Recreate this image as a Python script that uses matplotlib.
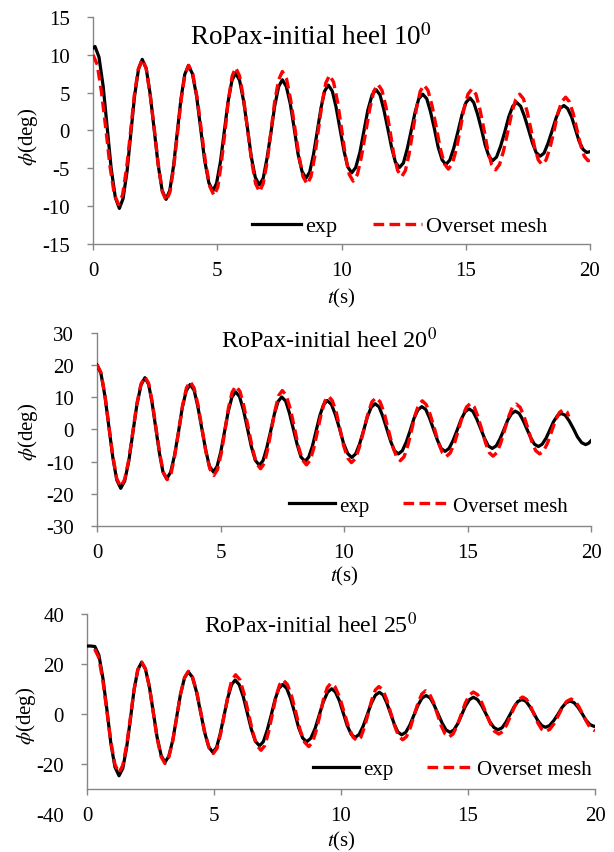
import matplotlib.pyplot as plt

# roll decay, RoPax, three initial heel angles: exp vs overset mesh
# values (peaks, troughs and points in between)

t1_exp = [0.00, 0.08,
          0.24, 0.41, 0.57, 0.73, 0.90, 1.06,
          1.21, 1.37, 1.52, 1.67, 1.83, 1.98,
          2.14, 2.30, 2.46, 2.62, 2.78, 2.94,
          3.09, 3.24, 3.39, 3.54, 3.69, 3.84,
          4.00, 4.17, 4.33, 4.49, 4.66, 4.82,
          4.97, 5.13, 5.28, 5.43, 5.59, 5.74,
          5.90, 6.06, 6.22, 6.37, 6.53, 6.69,
          6.85, 7.00, 7.16, 7.31, 7.47, 7.62,
          7.78, 7.94, 8.10, 8.25, 8.41, 8.57,
          8.72, 8.87, 9.02, 9.17, 9.32, 9.47,
          9.63, 9.78, 9.94, 10.10, 10.25, 10.41,
          10.57, 10.74, 10.90, 11.06, 11.23, 11.39,
          11.55, 11.70, 11.86, 12.02, 12.17, 12.33,
          12.49, 12.64, 12.80, 12.96, 13.11, 13.27,
          13.43, 13.58, 13.74, 13.89, 14.05, 14.20,
          14.36, 14.52, 14.69, 14.85, 15.01, 15.17,
          15.32, 15.47, 15.63, 15.78, 15.93, 16.08,
          16.24, 16.40, 16.57, 16.73, 16.89, 17.05,
          17.21, 17.36, 17.52, 17.68, 17.83, 17.99,
          18.15, 18.31, 18.47, 18.63, 18.79, 18.95,
          19.10, 19.26, 19.41, 19.56, 19.72, 19.87,
          20.00]
phi1_exp = [10.9, 11.1,
            9.7, 5.8, 0.4, -5.0, -8.9, -10.3,
            -9.0, -5.4, -0.5, 4.5, 8.1, 9.4,
            8.2, 4.8, 0.2, -4.5, -7.9, -9.1,
            -7.9, -4.7, -0.3, 4.2, 7.4, 8.6,
            7.5, 4.5, 0.3, -3.9, -6.9, -8.0,
            -7.0, -4.1, -0.2, 3.7, 6.6, 7.6,
            6.6, 3.9, 0.2, -3.5, -6.2, -7.2,
            -6.3, -3.7, -0.3, 3.2, 5.8, 6.7,
            5.8, 3.5, 0.2, -3.1, -5.4, -6.3,
            -5.5, -3.2, -0.2, 2.9, 5.2, 6.0,
            5.2, 3.1, 0.2, -2.7, -4.8, -5.6,
            -4.9, -2.9, -0.1, 2.7, 4.7, 5.4,
            4.7, 2.8, 0.3, -2.3, -4.2, -4.9,
            -4.3, -2.5, -0.1, 2.4, 4.2, 4.8,
            4.2, 2.5, 0.2, -2.2, -3.9, -4.5,
            -3.9, -2.3, -0.1, 2.1, 3.7, 4.3,
            3.7, 2.2, 0.2, -1.9, -3.4, -4.0,
            -3.5, -2.1, -0.2, 1.8, 3.2, 3.7,
            3.2, 1.9, 0.2, -1.6, -2.9, -3.4,
            -3.0, -1.7, -0.1, 1.6, 2.9, 3.3,
            2.9, 1.8, 0.2, -1.4, -2.5, -2.9,
            -2.8]

t1_cfd = [0.00,
          0.17, 0.34, 0.52, 0.69, 0.86, 1.03,
          1.19, 1.35, 1.51, 1.66, 1.82, 1.98,
          2.14, 2.30, 2.47, 2.63, 2.79, 2.95,
          3.10, 3.25, 3.40, 3.55, 3.70, 3.85,
          4.02, 4.19, 4.36, 4.53, 4.70, 4.87,
          5.02, 5.16, 5.31, 5.45, 5.60, 5.74,
          5.90, 6.06, 6.22, 6.38, 6.54, 6.70,
          6.85, 7.01, 7.16, 7.31, 7.47, 7.62,
          7.79, 7.95, 8.12, 8.29, 8.45, 8.62,
          8.77, 8.92, 9.07, 9.22, 9.37, 9.52,
          9.68, 9.84, 10.00, 10.15, 10.31, 10.47,
          10.64, 10.80, 10.97, 11.14, 11.30, 11.47,
          11.63, 11.79, 11.95, 12.10, 12.26, 12.42,
          12.57, 12.72, 12.87, 13.02, 13.17, 13.32,
          13.48, 13.65, 13.81, 13.97, 14.14, 14.30,
          14.46, 14.62, 14.78, 14.93, 15.09, 15.25,
          15.41, 15.57, 15.73, 15.88, 16.04, 16.20,
          16.36, 16.52, 16.69, 16.85, 17.01, 17.17,
          17.32, 17.47, 17.62, 17.77, 17.92, 18.07,
          18.23, 18.39, 18.55, 18.70, 18.86, 19.02,
          19.17, 19.32, 19.47, 19.62, 19.77, 19.92,
          20.00]
phi1_cfd = [10.0,
            8.7, 5.1, 0.1, -4.9, -8.5, -9.8,
            -8.5, -5.0, -0.2, 4.6, 8.1, 9.4,
            8.2, 4.7, 0.1, -4.6, -8.1, -9.3,
            -8.1, -4.8, -0.4, 4.1, 7.4, 8.6,
            7.4, 4.3, 0.0, -4.3, -7.4, -8.6,
            -7.5, -4.4, -0.2, 4.1, 7.2, 8.3,
            7.2, 4.2, 0.1, -4.0, -7.0, -8.1,
            -7.0, -4.1, -0.2, 3.8, 6.7, 7.8,
            6.8, 4.1, 0.4, -3.4, -6.1, -7.1,
            -6.1, -3.5, 0.1, 3.7, 6.3, 7.3,
            6.4, 3.8, 0.3, -3.2, -5.8, -6.7,
            -5.8, -3.5, -0.3, 2.9, 5.2, 6.1,
            5.3, 3.1, 0.0, -3.1, -5.3, -6.1,
            -5.3, -3.1, -0.1, 3.0, 5.2, 6.0,
            5.3, 3.2, 0.5, -2.3, -4.4, -5.1,
            -4.4, -2.5, 0.2, 2.9, 4.8, 5.5,
            4.8, 2.8, 0.2, -2.5, -4.5, -5.2,
            -4.5, -2.7, -0.2, 2.3, 4.1, 4.8,
            4.2, 2.5, 0.2, -2.2, -3.9, -4.5,
            -3.9, -2.3, -0.1, 2.2, 3.8, 4.4,
            3.8, 2.3, 0.2, -1.9, -3.4, -4.0,
            -3.9]

t2_exp = [0.00,
          0.16, 0.32, 0.48, 0.64, 0.80, 0.96,
          1.12, 1.29, 1.45, 1.61, 1.78, 1.94,
          2.09, 2.23, 2.38, 2.53, 2.67, 2.82,
          2.98, 3.14, 3.30, 3.45, 3.61, 3.77,
          3.93, 4.08, 4.24, 4.40, 4.55, 4.71,
          4.86, 5.01, 5.16, 5.31, 5.46, 5.61,
          5.77, 5.93, 6.09, 6.25, 6.41, 6.57,
          6.72, 6.87, 7.03, 7.18, 7.33, 7.48,
          7.64, 7.79, 7.95, 8.11, 8.26, 8.42,
          8.57, 8.72, 8.87, 9.02, 9.17, 9.32,
          9.49, 9.65, 9.82, 9.98, 10.15, 10.31,
          10.47, 10.63, 10.79, 10.94, 11.10, 11.26,
          11.42, 11.57, 11.73, 11.89, 12.04, 12.20,
          12.36, 12.52, 12.68, 12.83, 12.99, 13.15,
          13.31, 13.46, 13.62, 13.78, 13.93, 14.09,
          14.25, 14.41, 14.58, 14.74, 14.90, 15.06,
          15.22, 15.37, 15.53, 15.69, 15.84, 16.00,
          16.16, 16.31, 16.47, 16.62, 16.78, 16.93,
          17.09, 17.24, 17.40, 17.56, 17.71, 17.87,
          18.02, 18.18, 18.33, 18.48, 18.64, 18.79,
          18.96, 19.12, 19.29, 19.45, 19.62, 19.78,
          19.90, 20.00]
phi2_exp = [20.0,
            17.4, 10.4, 0.9, -8.7, -15.7, -18.3,
            -16.0, -9.7, -1.1, 7.5, 13.8, 16.1,
            14.0, 8.3, 0.4, -7.5, -13.2, -15.3,
            -13.3, -8.0, -0.7, 6.7, 12.0, 14.0,
            12.2, 7.2, 0.4, -6.4, -11.4, -13.2,
            -11.5, -7.0, -0.8, 5.5, 10.0, 11.7,
            10.2, 6.0, 0.3, -5.4, -9.6, -11.1,
            -9.7, -5.8, -0.5, 4.8, 8.7, 10.1,
            8.8, 5.1, 0.1, -4.9, -8.6, -9.9,
            -8.6, -5.2, -0.5, 4.3, 7.7, 9.0,
            7.8, 4.6, 0.2, -4.3, -7.5, -8.7,
            -7.6, -4.5, -0.4, 3.8, 6.9, 8.0,
            7.0, 4.1, 0.2, -3.7, -6.6, -7.6,
            -6.6, -3.9, -0.3, 3.4, 6.1, 7.1,
            6.2, 3.6, 0.2, -3.3, -5.9, -6.8,
            -5.9, -3.5, -0.2, 3.1, 5.5, 6.4,
            5.6, 3.3, 0.3, -2.8, -5.1, -5.9,
            -5.1, -3.0, -0.1, 2.8, 4.9, 5.7,
            5.0, 3.0, 0.2, -2.6, -4.6, -5.3,
            -4.6, -2.7, -0.2, 2.4, 4.3, 5.0,
            4.4, 2.6, 0.2, -2.3, -4.1, -4.7,
            -4.3, -3.5]

t2_cfd = [0.00,
          0.16, 0.32, 0.48, 0.64, 0.80, 0.96,
          1.12, 1.29, 1.45, 1.61, 1.78, 1.94,
          2.09, 2.24, 2.39, 2.54, 2.69, 2.84,
          3.00, 3.15, 3.31, 3.46, 3.62, 3.77,
          3.93, 4.09, 4.25, 4.41, 4.57, 4.73,
          4.88, 5.03, 5.18, 5.32, 5.47, 5.62,
          5.79, 5.95, 6.12, 6.29, 6.45, 6.62,
          6.77, 6.91, 7.06, 7.21, 7.35, 7.50,
          7.66, 7.83, 7.99, 8.15, 8.32, 8.48,
          8.63, 8.78, 8.93, 9.08, 9.23, 9.38,
          9.53, 9.69, 9.84, 9.99, 10.15, 10.30,
          10.47, 10.63, 10.80, 10.97, 11.13, 11.30,
          11.46, 11.63, 11.79, 11.95, 12.12, 12.28,
          12.43, 12.58, 12.73, 12.87, 13.02, 13.17,
          13.33, 13.49, 13.66, 13.82, 13.98, 14.14,
          14.30, 14.47, 14.63, 14.79, 14.96, 15.12,
          15.27, 15.42, 15.58, 15.73, 15.88, 16.03,
          16.19, 16.34, 16.50, 16.66, 16.81, 16.97,
          17.13, 17.29, 17.45, 17.60, 17.76, 17.92,
          18.08, 18.24, 18.40, 18.56, 18.72, 18.88,
          19.03, 19.10]
phi2_cfd = [20.2,
            17.7, 10.7, 1.2, -8.3, -15.3, -17.8,
            -15.5, -9.3, -0.7, 7.9, 14.1, 16.4,
            14.3, 8.4, 0.4, -7.6, -13.5, -15.6,
            -13.6, -8.0, -0.4, 7.3, 12.9, 14.9,
            12.9, 7.6, 0.3, -7.0, -12.3, -14.3,
            -12.4, -7.4, -0.4, 6.6, 11.6, 13.5,
            11.8, 7.1, 0.7, -5.8, -10.5, -12.2,
            -10.6, -6.1, -0.1, 6.0, 10.5, 12.1,
            10.6, 6.3, 0.6, -5.2, -9.5, -11.0,
            -9.6, -5.7, -0.4, 5.0, 8.9, 10.3,
            8.9, 5.2, 0.0, -5.2, -8.9, -10.3,
            -9.0, -5.3, -0.2, 4.9, 8.6, 9.9,
            8.6, 5.0, 0.1, -4.8, -8.4, -9.7,
            -8.5, -5.1, -0.4, 4.3, 7.7, 8.9,
            7.7, 4.6, 0.3, -4.1, -7.2, -8.4,
            -7.3, -4.3, -0.2, 4.0, 7.0, 8.1,
            7.0, 4.0, -0.1, -4.2, -7.2, -8.3,
            -7.2, -4.3, -0.2, 3.9, 6.8, 7.9,
            6.9, 4.0, 0.2, -3.7, -6.6, -7.6,
            -6.7, -4.2, -0.7, 2.8, 5.3, 6.2,
            5.4, 4.0]

t3_exp = [0.00, 0.15, 0.31,
          0.47, 0.63, 0.79, 0.94, 1.10, 1.26,
          1.41, 1.56, 1.71, 1.85, 2.00, 2.15,
          2.30, 2.46, 2.61, 2.76, 2.92, 3.07,
          3.22, 3.38, 3.53, 3.68, 3.84, 3.99,
          4.15, 4.31, 4.47, 4.63, 4.79, 4.95,
          5.10, 5.24, 5.39, 5.54, 5.69, 5.83,
          5.99, 6.15, 6.31, 6.47, 6.63, 6.79,
          6.94, 7.09, 7.25, 7.40, 7.55, 7.70,
          7.86, 8.02, 8.18, 8.33, 8.49, 8.65,
          8.81, 8.98, 9.14, 9.30, 9.47, 9.63,
          9.78, 9.94, 10.09, 10.24, 10.40, 10.55,
          10.71, 10.87, 11.03, 11.19, 11.35, 11.51,
          11.66, 11.80, 11.95, 12.10, 12.24, 12.39,
          12.55, 12.71, 12.87, 13.03, 13.19, 13.35,
          13.51, 13.66, 13.82, 13.98, 14.13, 14.29,
          14.44, 14.60, 14.75, 14.90, 15.06, 15.21,
          15.37, 15.53, 15.70, 15.86, 16.02, 16.18,
          16.34, 16.49, 16.65, 16.81, 16.96, 17.12,
          17.28, 17.43, 17.59, 17.74, 17.90, 18.05,
          18.21, 18.37, 18.54, 18.70, 18.86, 19.02,
          19.18, 19.33, 19.49, 19.64, 19.80, 19.95,
          20.00]
phi3_exp = [27.2, 27.2, 27.0,
            23.5, 14.1, 1.2, -11.8, -21.2, -24.7,
            -21.7, -13.4, -2.0, 9.4, 17.7, 20.7,
            18.0, 10.7, 0.7, -9.3, -16.6, -19.3,
            -16.9, -10.3, -1.2, 7.9, 14.5, 16.9,
            14.7, 8.9, 0.8, -7.3, -13.1, -15.3,
            -13.4, -8.1, -0.9, 6.4, 11.7, 13.6,
            11.8, 7.0, 0.5, -6.1, -10.9, -12.7,
            -11.1, -6.6, -0.5, 5.7, 10.2, 11.8,
            10.3, 6.1, 0.4, -5.4, -9.6, -11.1,
            -9.7, -5.8, -0.5, 4.8, 8.7, 10.1,
            8.8, 5.2, 0.4, -4.5, -8.1, -9.4,
            -8.2, -4.9, -0.4, 4.2, 7.5, 8.7,
            7.6, 4.5, 0.2, -4.1, -7.2, -8.3,
            -7.3, -4.4, -0.5, 3.5, 6.4, 7.4,
            6.4, 3.7, 0.1, -3.6, -6.3, -7.3,
            -6.4, -3.8, -0.3, 3.2, 5.8, 6.7,
            5.8, 3.5, 0.2, -3.1, -5.4, -6.3,
            -5.5, -3.3, -0.3, 2.8, 5.0, 5.8,
            5.1, 3.0, 0.3, -2.5, -4.6, -5.3,
            -4.6, -2.7, -0.1, 2.6, 4.5, 5.2,
            4.5, 2.7, 0.2, -2.4, -4.2, -4.9,
            -4.9]

t3_cfd = [0.30,
          0.46, 0.62, 0.78, 0.94, 1.10, 1.26,
          1.41, 1.56, 1.71, 1.85, 2.00, 2.15,
          2.30, 2.46, 2.61, 2.76, 2.92, 3.07,
          3.22, 3.38, 3.53, 3.68, 3.84, 3.99,
          4.15, 4.32, 4.48, 4.64, 4.81, 4.97,
          5.12, 5.26, 5.41, 5.56, 5.70, 5.85,
          6.02, 6.18, 6.35, 6.52, 6.68, 6.85,
          7.00, 7.14, 7.29, 7.43, 7.58, 7.72,
          7.89, 8.06, 8.23, 8.39, 8.56, 8.73,
          8.88, 9.02, 9.17, 9.31, 9.46, 9.60,
          9.77, 9.95, 10.12, 10.29, 10.47, 10.64,
          10.78, 10.92, 11.07, 11.21, 11.35, 11.49,
          11.65, 11.80, 11.96, 12.12, 12.27, 12.43,
          12.58, 12.73, 12.88, 13.03, 13.18, 13.33,
          13.48, 13.64, 13.79, 13.94, 14.10, 14.25,
          14.41, 14.57, 14.73, 14.89, 15.05, 15.21,
          15.38, 15.54, 15.71, 15.88, 16.04, 16.21,
          16.37, 16.52, 16.68, 16.84, 16.99, 17.15,
          17.30, 17.45, 17.60, 17.75, 17.90, 18.05,
          18.22, 18.39, 18.56, 18.72, 18.89, 19.06,
          19.22, 19.37, 19.53, 19.69, 19.84, 20.00]
phi3_cfd = [26.0,
            22.7, 13.6, 1.3, -11.1, -20.2, -23.5,
            -20.5, -12.4, -1.4, 9.7, 17.8, 20.8,
            18.1, 10.7, 0.5, -9.7, -17.1, -19.8,
            -17.3, -10.6, -1.4, 7.9, 14.6, 17.1,
            14.9, 8.9, 0.7, -7.6, -13.6, -15.8,
            -13.7, -7.9, -0.1, 7.8, 13.6, 15.7,
            13.7, 8.2, 0.6, -7.0, -12.5, -14.5,
            -12.6, -7.5, -0.5, 6.6, 11.7, 13.6,
            11.8, 7.0, 0.3, -6.4, -11.2, -13.0,
            -11.3, -6.7, -0.4, 6.0, 10.6, 12.3,
            10.8, 6.6, 0.8, -5.0, -9.2, -10.7,
            -9.3, -5.3, 0.2, 5.6, 9.6, 11.0,
            9.6, 5.7, 0.4, -5.0, -8.9, -10.3,
            -9.0, -5.4, -0.5, 4.4, 8.0, 9.3,
            8.1, 4.7, 0.1, -4.6, -8.0, -9.2,
            -8.0, -4.7, -0.2, 4.3, 7.6, 8.8,
            7.7, 4.6, 0.4, -3.8, -6.9, -8.0,
            -7.0, -4.3, -0.6, 3.1, 5.8, 6.8,
            5.9, 3.4, -0.1, -3.6, -6.1, -7.0,
            -6.1, -3.8, -0.5, 2.8, 5.1, 6.0,
            5.2, 2.8, -0.4, -3.5, -5.9, -6.7]

heel = ['10', '20', '25']
yticks = [[-15, -10, -5, 0, 5, 10, 15],
          [-30, -20, -10, 0, 10, 20, 30],
          [-40, -20, 0, 20, 40]]
xticks = [0, 5, 10, 15, 20]

plt.rcParams['font.family'] = 'Liberation Serif'
plt.rcParams['mathtext.fontset'] = 'stix'
plt.rcParams['axes.unicode_minus'] = False

axcol = '#868686'

fig = plt.figure(figsize=(6.14, 8.53), dpi=100)

# [left, bottom, width, height] in figure fraction
rects = [[0.1515, 0.7128, 0.8094, 0.2661],
         [0.1580, 0.3822, 0.8046, 0.2263],
         [0.1417, 0.0445, 0.8274, 0.2345]]
title_pos = [(0.195, 0.881, 19.5), (0.251, 0.927, 17.5), (0.230, 0.910, 17.2)]
leg_pos = [(0.320, 0.079, 16), (0.389, 0.104, 15), (0.445, 0.225, 15)]
ylab_pos = [(-0.107, 0.476), (-0.115, 0.49), (-0.096, 0.495)]
xlab_y = [-0.185, -0.197, -0.075]

data = [(t1_exp, phi1_exp, t1_cfd, phi1_cfd),
        (t2_exp, phi2_exp, t2_cfd, phi2_cfd),
        (t3_exp, phi3_exp, t3_cfd, phi3_cfd)]

for i in range(3):
    ax = fig.add_axes(rects[i])
    te, pe, tc, pc = data[i]
    ax.plot(te, pe, color='black', lw=2.3, label='exp', zorder=3)
    ax.plot(tc, pc, color='red', lw=2.4, ls=(0, (3.2, 1.6)),
            label='Overset mesh', zorder=4)

    ax.set_xlim(0, 20)
    ax.set_ylim(yticks[i][0], yticks[i][-1])
    ax.set_xticks(xticks)
    ax.set_yticks(yticks[i])

    for s in ['top', 'right']:
        ax.spines[s].set_visible(False)
    for s in ['left', 'bottom']:
        ax.spines[s].set_color(axcol)
        ax.spines[s].set_linewidth(1.0)
    ax.tick_params(direction='out', length=4.5, width=1.0, color=axcol,
                   labelsize=15, labelcolor='black')
    ax.tick_params(axis='x', pad=8)
    ax.tick_params(axis='y', pad=12)

    if i == 2:
        # horizontal axis crosses at -30
        ax.spines['bottom'].set_position(('data', -30))
        ax.spines['left'].set_bounds(-30, 40)
        ax.yaxis.get_major_ticks()[0].tick1line.set_visible(False)

    tx, ty, tfs = title_pos[i]
    ax.text(tx, ty, 'RoPax-initial heel ' + heel[i] + r'$^{0}$',
            transform=ax.transAxes, fontsize=tfs, va='baseline')

    ax.set_ylabel(r'$\phi$(deg)', fontsize=15)
    ax.yaxis.set_label_coords(*ylab_pos[i])
    ax.set_xlabel(r'$t$(s)', fontsize=15)
    ax.xaxis.set_label_coords(0.5, xlab_y[i])

    lx, ly, lfs = leg_pos[i]
    ax.legend(ncol=2, loc='center left', bbox_to_anchor=(lx, ly),
              frameon=False, fontsize=lfs, handlelength=2.2,
              handletextpad=0.2, columnspacing=1.6, borderpad=0,
              borderaxespad=0)

plt.savefig('out.png', dpi=100)
